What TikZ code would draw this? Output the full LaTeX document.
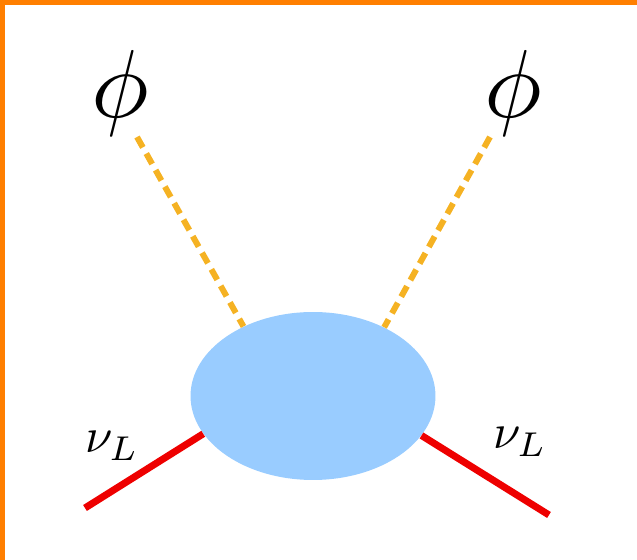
\documentclass[tikz,border=0pt]{standalone}
\usepackage{graphicx}
\usepackage{xcolor}
\usetikzlibrary{shapes.geometric, positioning, calc}
\definecolor{frameorange}{HTML}{FF7F00}
\definecolor{scalaramber}{HTML}{F5B223}
\definecolor{blobblue}{HTML}{99CCFF}
\definecolor{nured}{HTML}{EE0000}

\begin{document}
\begin{tikzpicture}[x=0.02cm, y=-0.02cm,
    scalar/.style={draw=scalaramber, line width=3.4pt, dash pattern=on 6.8pt off 4pt},
    fermion/.style={draw=nured, line width=4pt},
    lbl/.style={inner sep=0pt}]
    \useasboundingbox (0,0) rectangle (637,560);
    % frame on two sides
    \fill[frameorange] (0,0) rectangle (637,5.5);
    \fill[frameorange] (0,0) rectangle (5.5,560);
    % blob
    \node[ellipse, fill=blobblue, minimum width=4.9cm, minimum height=3.36cm, inner sep=0pt] (blob) at (313,396) {};
    % scalar legs
    \node[lbl] (phiL) at (120,93) {\scalebox{5.5}{$\phi$}};
    \node[lbl] (phiR) at (513,93) {\scalebox{5.5}{$\phi$}};
    \coordinate (dL) at (137,137);
    \coordinate (dR) at (490,137);
    \draw[scalar] (dL) -- (blob.135);
    \draw[scalar] (dR) -- (blob.44);
    % neutrino legs
    \coordinate (fL) at (85,508);
    \coordinate (fR) at (549,515);
    \draw[fermion] (fL) -- (blob.199);
    \draw[fermion] (fR) -- (blob.-20);
    \node[lbl] (nuL) at (112,446) {\scalebox{2.8}{$\nu_L$}};
    \node[lbl] (nuR) at (520,442) {\scalebox{2.8}{$\nu_L$}};
\end{tikzpicture}
\end{document}
